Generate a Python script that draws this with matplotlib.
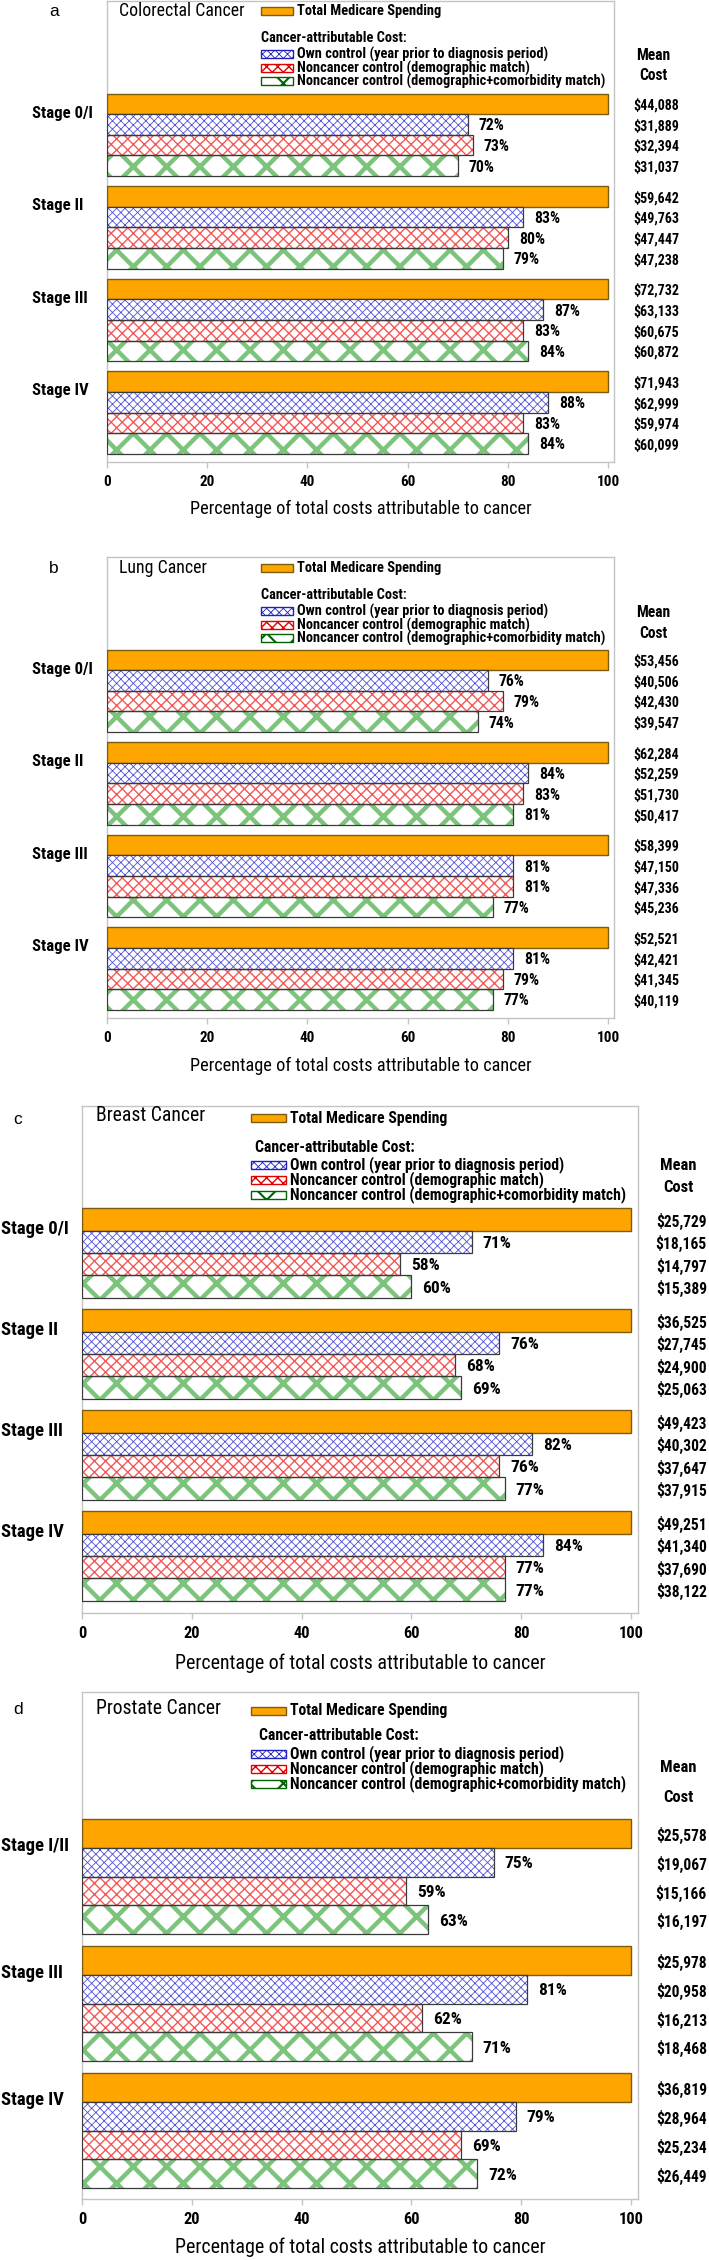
import os
import numpy as np
import matplotlib
matplotlib.use('agg')
import matplotlib.pyplot as plt
from matplotlib.patches import Rectangle
from matplotlib import font_manager as fm

plt.rcParams['font.family'] = ['Liberation Sans', 'DejaVu Sans']

# ---- data -------------------------------------------------------------
crc_stages = ["Stage 0/I", "Stage II", "Stage III", "Stage IV"]
crc_total = [44088, 59642, 72732, 71943]
crc_own_pct = [72, 83, 87, 88]
crc_own_cost = [31889, 49763, 63133, 62999]
crc_demo_pct = [73, 80, 83, 83]
crc_demo_cost = [32394, 47447, 60675, 59974]
crc_comorb_pct = [70, 79, 84, 84]
crc_comorb_cost = [31037, 47238, 60872, 60099]

lung_stages = ["Stage 0/I", "Stage II", "Stage III", "Stage IV"]
lung_total = [53456, 62284, 58399, 52521]
lung_own_pct = [76, 84, 81, 81]
lung_own_cost = [40506, 52259, 47150, 42421]
lung_demo_pct = [79, 83, 81, 79]
lung_demo_cost = [42430, 51730, 47336, 41345]
lung_comorb_pct = [74, 81, 77, 77]
lung_comorb_cost = [39547, 50417, 45236, 40119]

breast_stages = ["Stage 0/I", "Stage II", "Stage III", "Stage IV"]
breast_total = [25729, 36525, 49423, 49251]
breast_own_pct = [71, 76, 82, 84]
breast_own_cost = [18165, 27745, 40302, 41340]
breast_demo_pct = [58, 68, 76, 77]
breast_demo_cost = [14797, 24900, 37647, 37690]
breast_comorb_pct = [60, 69, 77, 77]
breast_comorb_cost = [15389, 25063, 37915, 38122]

prost_stages = ["Stage I/II", "Stage III", "Stage IV"]
prost_total = [25578, 25978, 36819]
prost_own_pct = [75, 81, 79]
prost_own_cost = [19067, 20958, 28964]
prost_demo_pct = [59, 62, 69]
prost_demo_cost = [15166, 16213, 25234]
prost_comorb_pct = [63, 71, 72]
prost_comorb_cost = [16197, 18468, 26449]

legend_labels = ["Own control (year prior to diagnosis period)",
                 "Noncancer control (demographic match)",
                 "Noncancer control (demographic+comorbidity match)"]
xlab = "Percentage of total costs attributable to cancer"
xticks = [0, 20, 40, 60, 80, 100]

# ---- styles -----------------------------------------------------------
W, H = 709, 2260
ORANGE = '#ffa500'
ORANGE_EDGE = '#7a5c10'
OUTLINE = '#3a3a3a'
FRAME = '#c4c4c4'
# (hatch, hatch colour, hatch linewidth, legend edge)
STYLES = [('xxxx', '#5050d8', 0.6, '#2020c0'),
          ('xxx', '#f25a5a', 1.0, '#e00000'),
          ('x', '#7cc47c', 3.2, '#006400')]


# the original uses a narrow sans (Arial Narrow like); take one if installed
def find_font(patterns):
    files = {os.path.basename(f.fname).lower(): f.fname
             for f in fm.fontManager.ttflist}
    for p in patterns:
        for base, path in files.items():
            if base.startswith(p):
                return path
    return None


bold_path = find_font(['liberationsansnarrow-bold.', 'arialnb', 'arial narrow bold',
                       'robotocondensed-bold.', 'notosans-condensedbold.',
                       'notosans-semicondensedbold.', 'dejavusanscondensed-bold.',
                       'opensans-condensedbold.', 'opensans_condensed-bold.'])
reg_path = find_font(['liberationsansnarrow-regular.', 'arialn.', 'arial narrow.',
                      'robotocondensed-regular.', 'notosans-condensed.',
                      'notosans-semicondensed.', 'dejavusanscondensed.',
                      'opensans-condensedregular.', 'opensans_condensed-regular.'])
if bold_path and reg_path:
    BOLD = fm.FontProperties(fname=bold_path)
    REG = fm.FontProperties(fname=reg_path)
else:
    BOLD = fm.FontProperties(family='Liberation Sans', weight='bold')
    REG = fm.FontProperties(family='Liberation Sans')
PLAIN = fm.FontProperties(family='Liberation Sans')

fig = plt.figure(figsize=(W / 100, H / 100), dpi=100)
renderer = fig.canvas.get_renderer()


def font(base, size):
    f = base.copy()
    f.set_size(size)
    return f


def size_for(s, width_px, base=BOLD):
    # font size that gives the string the width seen in the reference
    t = fig.text(0, 0, s, fontproperties=font(base, 10))
    w = t.get_window_extent(renderer).width
    t.remove()
    return 10 * width_px / w


def fx(x):
    return x / W


def fy(y):
    return 1 - y / H


def hatched(patch, hlw):
    if hasattr(patch, 'set_hatch_linewidth'):
        patch.set_hatch_linewidth(hlw)


def ftext(x, y, s, **kw):
    return fig.text(fx(x), fy(y), s, **kw)


def panel(box, xmax, step, pad_top, pad_bot, stages, total, series, txt):
    l, t, r, b = box
    ax = fig.add_axes([fx(l), fy(b), fx(r - l), (b - t) / H])
    n = len(stages)
    base = np.arange(n) * step
    sz = txt['sizes']
    cx = 1.0 + (txt['cost_x'] - r) / (r - l)
    fcost = font(BOLD, sz['cost'])

    # total spending bars
    ax.barh(base, [100] * n, height=1.0, color=ORANGE, edgecolor=ORANGE_EDGE,
            linewidth=1.0, zorder=3)
    for i in range(n):
        ax.text(cx, base[i] + 0.08, f"${total[i]:,}",
                transform=ax.get_yaxis_transform(), ha='right', va='center',
                fontproperties=fcost, clip_on=False)

    for k, (pct, cost) in enumerate(series):
        hatch, hcol, hlw, _ = STYLES[k]
        y = base + k + 1
        bars = ax.barh(y, pct, height=1.0, color='white', edgecolor=hcol,
                       hatch=hatch, linewidth=0, zorder=3)
        for p in bars:
            hatched(p, hlw)
        ax.barh(y, pct, height=1.0, fill=False, edgecolor=OUTLINE,
                linewidth=0.9, zorder=4)
        for i in range(n):
            ax.annotate(f"{pct[i]}%", (pct[i], y[i]), xytext=(8, -1),
                        textcoords='offset points', ha='left', va='center',
                        fontproperties=font(BOLD, sz['pct']))
            ax.text(cx, y[i] + 0.08, f"${cost[i]:,}",
                    transform=ax.get_yaxis_transform(), ha='right',
                    va='center', fontproperties=fcost, clip_on=False)

    for i in range(n):
        ax.text(-(l - txt['stage_x']) / (r - l), base[i] + 0.45, stages[i],
                transform=ax.get_yaxis_transform(), ha='left', va='center',
                fontproperties=font(BOLD, sz['stage']))

    ax.set_xlim(0, xmax)
    ax.set_ylim(base[-1] + 3 + 0.5 + pad_bot, -0.5 - pad_top)
    ax.set_xticks(xticks, labels=[str(v) for v in xticks],
                  fontproperties=font(BOLD, sz['tick']))
    ax.set_yticks([])
    ax.tick_params(axis='x', length=4, width=1, color=FRAME, pad=5)
    for sp in ax.spines.values():
        sp.set_color(FRAME)
        sp.set_linewidth(1.0)
    ax.set_xlabel(xlab, fontproperties=font(REG, sz['xlabel']), va='center')
    ax.xaxis.set_label_coords(0.5, (b - txt['xlabel_y']) / (b - t))

    # header texts and legend
    ftext(*txt['letter'], txt['name'][0], fontproperties=font(PLAIN, 12.5),
          ha='center', va='center')
    ftext(*txt['title'], txt['name'][1], fontproperties=font(REG, sz['title']),
          ha='left', va='center')
    flg = font(BOLD, sz['legend'])
    lx, pw, ph = txt['leg_x'], txt['patch_w'], 8
    ly = txt['leg_y']
    fig.add_artist(Rectangle((fx(lx), fy(ly[0] + ph / 2)), fx(pw), ph / H,
                             transform=fig.transFigure, facecolor=ORANGE,
                             edgecolor=ORANGE_EDGE, linewidth=1.0))
    ftext(lx + pw + 4, ly[0], "Total Medicare Spending", fontproperties=flg,
          va='center')
    ftext(txt['head_x'], ly[1], "Cancer-attributable Cost:",
          fontproperties=flg, va='center')
    for k in range(3):
        hatch, hcol, hlw, ecol = STYLES[k]
        rect = Rectangle((fx(lx), fy(ly[k + 2] + ph / 2)), fx(pw), ph / H,
                         transform=fig.transFigure, facecolor='white',
                         edgecolor=ecol, hatch=hatch, linewidth=1.0)
        hatched(rect, min(hlw, 1.5))
        fig.add_artist(rect)
        ftext(lx + pw + 4, ly[k + 2], legend_labels[k], fontproperties=flg,
              va='center')
    for s, yy in zip(["Mean", "Cost"], txt['mean_y']):
        ftext(txt['mean_x'], yy, s, fontproperties=font(BOLD, sz['mean']),
              ha='center', va='center')
    return ax


# font sizes fitted to string widths measured on the reference (px)
small_sizes = dict(cost=size_for("$44,088", 46), pct=size_for("72%", 26),
                   stage=size_for("Stage 0/I", 61), tick=size_for("100", 23),
                   legend=size_for(legend_labels[2], 307),
                   xlabel=size_for(xlab, 337, REG),
                   mean=size_for("Mean", 34),
                   title=size_for("Colorectal Cancer", 124, REG))
big_sizes = dict(cost=size_for("$25,729", 51), pct=size_for("71%", 29),
                 stage=size_for("Stage 0/I", 68), tick=size_for("100", 25),
                 legend=size_for(legend_labels[2], 336),
                 xlabel=size_for(xlab, 368, REG),
                 mean=size_for("Mean", 36),
                 title=size_for("Breast Cancer", 108, REG))


def layout(dy, small):
    if small:
        return dict(sizes=small_sizes, cost_x=679, stage_x=32,
                    xlabel_y=509 + dy,
                    letter=(54, 11 + dy), title=(119, 11 + dy), leg_x=261,
                    head_x=261, patch_w=32,
                    leg_y=[11 + dy, 38 + dy, 54 + dy, 68 + dy, 81 + dy],
                    mean_x=653, mean_y=[55 + dy, 76 + dy])
    return dict(sizes=big_sizes, cost_x=707, stage_x=1, xlabel_y=1663,
                letter=(18, 14 + dy), title=(96, 10 + dy), leg_x=251,
                head_x=255, patch_w=35,
                leg_y=[12 + dy, 42 + dy, 59 + dy, 74 + dy, 89 + dy],
                mean_x=678, mean_y=[60 + dy, 82 + dy])


txt = layout(0, True)
txt['name'] = ('a', 'Colorectal Cancer')
panel((107, 1, 614, 462), 101.2, 4.5, 4.5, 0.4, crc_stages, crc_total,
      [(crc_own_pct, crc_own_cost), (crc_demo_pct, crc_demo_cost),
       (crc_comorb_pct, crc_comorb_cost)], txt)

txt = layout(557, True)
txt['name'] = ('b', 'Lung Cancer')
panel((107, 557, 614, 1018), 101.2, 4.5, 4.5, 0.4, lung_stages, lung_total,
      [(lung_own_pct, lung_own_cost), (lung_demo_pct, lung_demo_cost),
       (lung_comorb_pct, lung_comorb_cost)], txt)

txt = layout(1106, False)
txt['name'] = ('c', 'Breast Cancer')
panel((82, 1106, 638, 1613), 101.3, 4.5, 4.55, 0.54, breast_stages,
      breast_total,
      [(breast_own_pct, breast_own_cost), (breast_demo_pct, breast_demo_cost),
       (breast_comorb_pct, breast_comorb_cost)], txt)

txt = layout(1697, False)
txt['name'] = ('d', 'Prostate Cancer')
txt['head_x'] = 259
txt['xlabel_y'] = 2247
txt['letter'] = (18, 1709)
txt['title'] = (96, 1709)
txt['leg_y'] = [1711, 1736, 1754, 1769, 1784]
txt['mean_y'] = [1767, 1797]
panel((82, 1692, 638, 2199), 101.3, 4.42, 4.42, 0.38, prost_stages,
      prost_total,
      [(prost_own_pct, prost_own_cost), (prost_demo_pct, prost_demo_cost),
       (prost_comorb_pct, prost_comorb_cost)], txt)

fig.savefig('out.png', dpi=100, facecolor='white')
